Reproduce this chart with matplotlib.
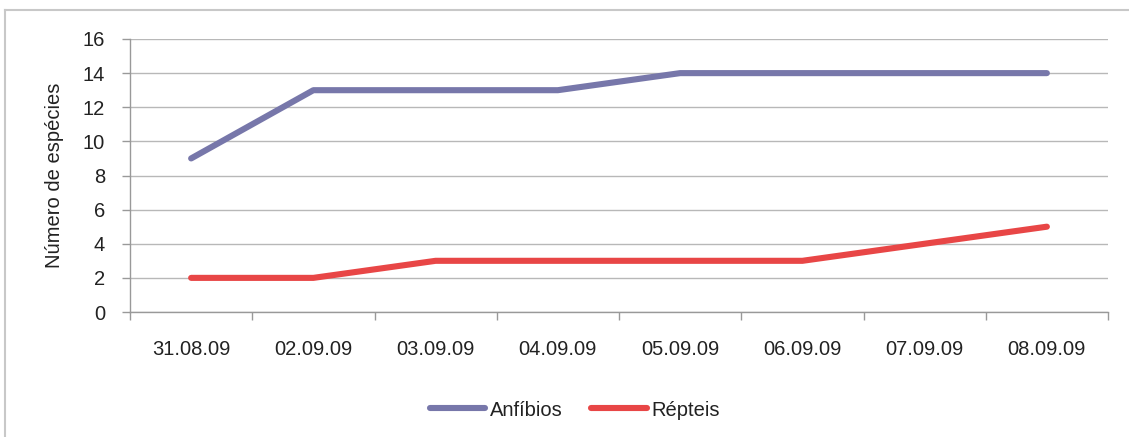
import matplotlib
matplotlib.use("Agg")
import matplotlib.pyplot as plt
from matplotlib.lines import Line2D

categories = ["31.08.09", "02.09.09", "03.09.09", "04.09.09", "05.09.09", "06.09.09", "07.09.09", "08.09.09"]
anfibios = [9, 13, 13, 13, 14, 14, 14, 14]
repteis = [2, 2, 3, 3, 3, 3, 4, 5]
yticks = [0, 2, 4, 6, 8, 10, 12, 14, 16]

plt.rcParams['font.family'] = ['Liberation Sans', 'DejaVu Sans']
FS = 14.5

W, H = 1129, 437
fig = plt.figure(figsize=(W / 100, H / 100), dpi=100)
# frame: top and left edges only
fig.lines.append(Line2D([5 / W, 1.0], [1 - 10 / H, 1 - 10 / H], transform=fig.transFigure,
                        color='#c8c8c8', linewidth=1.5))
fig.lines.append(Line2D([5 / W, 5 / W], [0, 1 - 10 / H], transform=fig.transFigure,
                        color='#c8c8c8', linewidth=1.5))

ax = fig.add_axes([130 / W, 1 - 312 / H, (1108 - 130) / W, (312 - 39) / H])
x = list(range(len(categories)))
ax.plot(x, anfibios, color='#7777aa', linewidth=4.4, solid_capstyle='round', label='Anfíbios', zorder=3)
ax.plot(x, repteis, color='#e84646', linewidth=4.4, solid_capstyle='round', label='Répteis', zorder=3)

ax.set_xlim(-0.5, len(categories) - 0.5)
ax.set_ylim(0, 16)
ax.set_yticks(yticks)
ax.set_yticklabels([str(v) for v in yticks], fontsize=FS, color='#222222')
ax.set_xticks(x)
ax.set_xticklabels(categories, fontsize=FS, color='#222222')
ax.tick_params(axis='x', length=0, pad=20)
ax.set_xticks([i - 0.5 for i in range(len(categories) + 1)], minor=True)
ax.tick_params(axis='x', which='minor', length=6, color='#999999', width=1)
ax.tick_params(axis='y', length=6, color='#999999', width=1, pad=12)
ax.grid(axis='y', color='#b8b8b8', linewidth=1)
ax.set_axisbelow(True)
for s in ['top', 'right']:
    ax.spines[s].set_visible(False)
for s in ['left', 'bottom']:
    ax.spines[s].set_color('#999999')
    ax.spines[s].set_linewidth(1)
ax.set_ylabel('Número de espécies', fontsize=FS, color='#222222')
ax.yaxis.set_label_coords((64 - 130) / (1108 - 130), 0.5)

leg = fig.legend(loc='center', bbox_to_anchor=(575 / W, 1 - 410 / H), ncol=2, frameon=False,
                 fontsize=FS, handlelength=2.75, handletextpad=0.25, columnspacing=1.4)
for t in leg.get_texts():
    t.set_color('#222222')

fig.savefig('out.png', dpi=100)
